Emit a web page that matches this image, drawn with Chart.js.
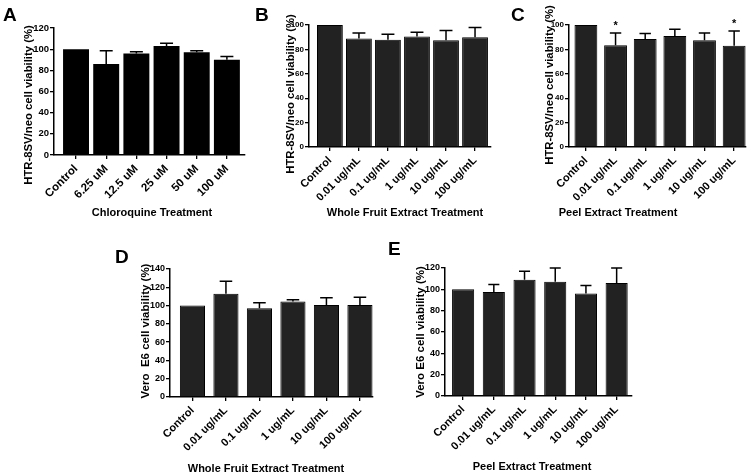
<!DOCTYPE html>
<html>
<head>
<meta charset="utf-8">
<script src="https://cdn.jsdelivr.net/npm/chart.js@4/dist/chart.umd.min.js"></script>
<style>
html,body{margin:0;padding:0;background:#fff;width:752px;height:475px;overflow:hidden;}
canvas{position:absolute;left:0;top:0;}
</style>
</head>
<body>
<canvas id="cA" width="752" height="475"></canvas>
<canvas id="cB" width="752" height="475"></canvas>
<canvas id="cC" width="752" height="475"></canvas>
<canvas id="cD" width="752" height="475"></canvas>
<canvas id="cE" width="752" height="475"></canvas>
<script>
// ---- data ----
const catsChloro = ['Control', '6.25 uM', '12.5 uM', '25 uM', '50 uM', '100 uM'];
const catsExtract = ['Control', '0.01 ug/mL', '0.1 ug/mL', '1 ug/mL', '10 ug/mL', '100 ug/mL'];

const meanA = [100, 86, 96, 103, 97, 90];
const errA  = [0, 12.5, 1.5, 2.5, 1.5, 3];

const meanB = [100, 89, 88, 90.5, 87.5, 90];
const errB  = [0, 4.5, 4.5, 3.5, 8, 8];

const meanC = [100, 83.5, 88.5, 91, 87.5, 83];
const errC  = [0, 10, 4.5, 5.5, 6, 12];
const sigC  = ['', '*', '', '', '', '*'];

const meanD = [100, 113, 97, 104.5, 100.5, 100.5];
const errD  = [0, 13.5, 6, 2, 8, 8.5];

const meanE = [100, 97.5, 109, 107, 96, 106];
const errE  = [0, 7, 8, 13, 7.5, 14];

const yTicksA = [0, 20, 40, 60, 80, 100, 120];
const yTicksB = [0, 20, 40, 60, 80, 100];
const yTicksD = [0, 20, 40, 60, 80, 100, 120, 140];
const yTicksE = [0, 20, 40, 60, 80, 100, 120];

// ---- setup ----
const FONT = "'Liberation Sans', Arial, Helvetica, sans-serif";
Chart.defaults.font.family = FONT;
Chart.defaults.font.weight = 'bold';
Chart.defaults.color = '#000';

const YW = 30, XH = 55, W = 752, H = 475;

const annotPlugin = {
  id: 'annot',
  afterDatasetsDraw(chart, args, o) {
    const ctx = chart.ctx;
    const meta = chart.getDatasetMeta(0);
    const ys = chart.scales.y;
    ctx.save();
    ctx.strokeStyle = '#000';
    ctx.lineWidth = 1.5;
    meta.data.forEach((bar, i) => {
      const e = o.errs[i];
      const topY = ys.getPixelForValue(o.means[i] + e);
      if (e > 0) {
        const cap = bar.width * 0.5;
        ctx.beginPath();
        ctx.moveTo(bar.x, bar.y);
        ctx.lineTo(bar.x, topY);
        ctx.moveTo(bar.x - cap / 2, topY);
        ctx.lineTo(bar.x + cap / 2, topY);
        ctx.stroke();
      }
      if (o.sig && o.sig[i]) {
        ctx.fillStyle = '#000';
        ctx.font = 'bold 11px ' + FONT;
        ctx.textAlign = 'center';
        ctx.textBaseline = 'alphabetic';
        ctx.fillText(o.sig[i], bar.x, topY - 4);
      }
    });
    ctx.restore();
  },
  afterDraw(chart, args, o) {
    const ctx = chart.ctx;
    ctx.save();
    ctx.fillStyle = '#000';
    ctx.font = 'bold 19px ' + FONT;
    ctx.textAlign = 'left';
    ctx.textBaseline = 'alphabetic';
    ctx.fillText(o.letter.t, o.letter.x, o.letter.y);
    ctx.font = 'bold 11px ' + FONT;
    ctx.textAlign = 'center';
    ctx.textBaseline = 'middle';
    ctx.fillText(o.xTitle.t, o.xTitle.x, o.xTitle.y);
    ctx.font = 'bold ' + o.yTitle.s + 'px ' + FONT;
    ctx.translate(o.yTitle.x, o.yTitle.y);
    ctx.rotate(-Math.PI / 2);
    ctx.fillText(o.yTitle.t, 0, 0);
    ctx.restore();
  }
};

function makePanel(id, p) {
  const pts = p.means.map((v, i) => ({x: i, y: v}));
  new Chart(document.getElementById(id), {
    type: 'bar',
    data: {
      datasets: [{
        data: pts,
        backgroundColor: p.fill,
        borderColor: '#000',
        borderWidth: p.bw,
        barPercentage: p.barPct,
        categoryPercentage: 1
      }]
    },
    options: {
      responsive: false,
      animation: false,
      devicePixelRatio: 1,
      layout: {padding: {left: p.box.l - YW, right: W - p.box.r, top: p.box.t, bottom: H - p.box.b - XH}},
      plugins: {
        legend: {display: false},
        tooltip: {enabled: false},
        annot: {means: p.means, errs: p.errs, sig: p.sig, letter: p.letter, xTitle: p.xTitle, yTitle: p.yTitle}
      },
      scales: {
        x: {
          type: 'linear',
          offset: false,
          min: p.xMin, max: p.xMax,
          afterBuildTicks(s) { s.ticks = p.cats.map((c, i) => ({value: i})); },
          afterFit(s) { s.height = XH; },
          ticks: {
            callback: (v) => p.cats[v],
            minRotation: 45, maxRotation: 45, autoSkip: false,
            font: {size: p.xFont, weight: 'bold'}, color: '#000', padding: 3
          },
          grid: {offset: false, drawOnChartArea: false, drawTicks: true, tickLength: 4, color: '#000', lineWidth: 1.3},
          border: {display: true, color: '#000', width: 1.5}
        },
        y: {
          min: 0, max: p.yTicks[p.yTicks.length - 1],
          afterBuildTicks(s) { s.ticks = p.yTicks.map(v => ({value: v})); },
          afterFit(s) { s.width = YW; },
          ticks: {font: {size: p.yFont, weight: 'bold'}, color: '#000', padding: 1},
          grid: {drawOnChartArea: false, drawTicks: true, tickLength: 4, color: '#000', lineWidth: 1.3},
          border: {display: true, color: '#000', width: 1.5}
        }
      }
    },
    plugins: [annotPlugin]
  });
}

makePanel('cA', {
  cats: catsChloro, means: meanA, errs: errA, yTicks: yTicksA, yFont: 9.5, xFont: 11.5,
  box: {l: 54, r: 245, t: 28, b: 155}, xMin: -0.73, xMax: 5.6, barPct: 0.86,
  fill: '#000', bw: 0,
  letter: {t: 'A', x: 3, y: 21},
  xTitle: {t: 'Chloroquine Treatment', x: 152, y: 213},
  yTitle: {t: 'HTR-8SV/neo cell viability (%)', x: 29, y: 105, s: 11.3}
});
makePanel('cB', {
  cats: catsExtract, means: meanB, errs: errB, yTicks: yTicksB, yFont: 8, xFont: 11,
  box: {l: 309, r: 491, t: 25, b: 147}, xMin: -0.72, xMax: 5.55, barPct: 0.89,
  fill: '#222222', bw: 1,
  letter: {t: 'B', x: 255, y: 21},
  xTitle: {t: 'Whole Fruit Extract Treatment', x: 405, y: 213},
  yTitle: {t: 'HTR-8SV/neo cell viability (%)', x: 291, y: 94, s: 11.3}
});
makePanel('cC', {
  cats: catsExtract, means: meanC, errs: errC, sig: sigC, yTicks: yTicksB, yFont: 8, xFont: 11,
  box: {l: 569, r: 746, t: 25, b: 147}, xMin: -0.57, xMax: 5.4, barPct: 0.77,
  fill: '#222222', bw: 1,
  letter: {t: 'C', x: 511, y: 21},
  xTitle: {t: 'Peel Extract Treatment', x: 618, y: 213},
  yTitle: {t: 'HTR-8SV/neo cell viability (%)', x: 550, y: 85, s: 11.3}
});
makePanel('cD', {
  cats: catsExtract, means: meanD, errs: errD, yTicks: yTicksD, yFont: 9, xFont: 11,
  box: {l: 170, r: 373, t: 269, b: 397}, xMin: -0.67, xMax: 5.39, barPct: 0.75,
  fill: '#222222', bw: 1,
  letter: {t: 'D', x: 115, y: 263},
  xTitle: {t: 'Whole Fruit Extract Treatment', x: 266, y: 469},
  yTitle: {t: 'Vero  E6 cell viability (%)', x: 146, y: 331, s: 11.5}
});
makePanel('cE', {
  cats: catsExtract, means: meanE, errs: errE, yTicks: yTicksE, yFont: 9, xFont: 11,
  box: {l: 445, r: 632, t: 268, b: 396}, xMin: -0.59, xMax: 5.5, barPct: 0.72,
  fill: '#222222', bw: 1,
  letter: {t: 'E', x: 388, y: 255},
  xTitle: {t: 'Peel Extract Treatment', x: 532, y: 467},
  yTitle: {t: 'Vero E6 cell viability (%)', x: 421, y: 332, s: 11.5}
});
</script>
</body>
</html>
